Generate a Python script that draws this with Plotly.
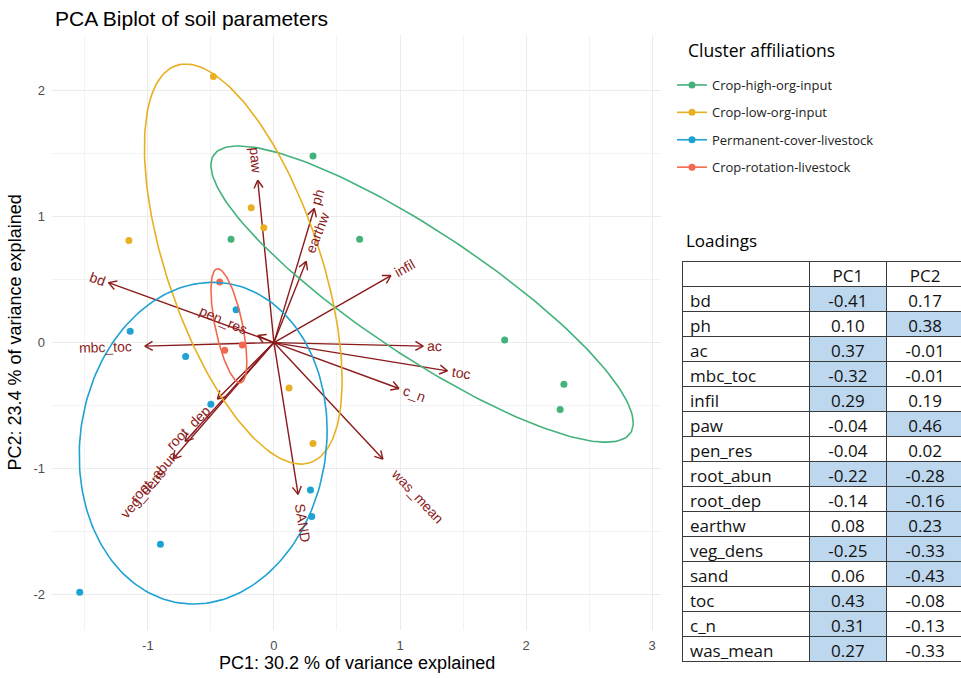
import numpy as np
import plotly.graph_objects as go

W, H = 965, 678   # figure slightly wider than the 961px window so the table's right edge is clipped

# ---------------- data ----------------
clusters = ["Crop-high-org-input", "Crop-low-org-input",
            "Permanent-cover-livestock", "Crop-rotation-livestock"]
cluster_colors = ["#43B37B", "#E8B020", "#1EA1D3", "#F3694F"]

high_pc1 = [0.31, -0.34, 0.68, 1.83, 2.30, 2.27]
high_pc2 = [1.48, 0.82, 0.82, 0.02, -0.33, -0.53]
low_pc1 = [-0.48, -0.18, -0.08, -1.15, 0.12, 0.31]
low_pc2 = [2.11, 1.07, 0.91, 0.81, -0.36, -0.80]
perm_pc1 = [-1.14, -0.70, -0.30, -0.50, 0.29, 0.30, -0.90, -1.54]
perm_pc2 = [0.09, -0.11, 0.26, -0.49, -1.17, -1.38, -1.60, -1.98]
rot_pc1 = [-0.43, -0.39, -0.25]
rot_pc2 = [0.48, -0.06, -0.02]

# 68 % ellipses: centre, half-width, half-height, correlation
ell_cx = [1.175, -0.243, -0.561, -0.357]
ell_cy = [0.385, 0.623, -0.798, 0.133]
ell_hx = [1.675, 0.784, 0.983, 0.142]
ell_hy = [1.175, 1.587, 1.276, 0.453]
ell_r = [-0.87, -0.583, 0.077, -0.625]

variables = ["bd", "ph", "ac", "mbc_toc", "infil", "paw", "pen_res", "root_abun",
             "root_dep", "earthw", "veg_dens", "sand", "toc", "c_n", "was_mean"]
arrow_labels = ["bd", "ph", "ac", "mbc_toc", "infil", "paw", "pen_res", "root_abun",
                "root_dep", "earthw", "veg_dens", "SAND", "toc", "c_n", "was_mean"]
load_pc1 = [-0.41, 0.10, 0.37, -0.32, 0.29, -0.04, -0.04, -0.22, -0.14, 0.08, -0.25, 0.06, 0.43, 0.31, 0.27]
load_pc2 = [0.17, 0.38, -0.01, -0.01, 0.19, 0.46, 0.02, -0.28, -0.16, 0.23, -0.33, -0.43, -0.08, -0.13, -0.33]
hl_pc1 = [1, 0, 1, 1, 1, 0, 0, 1, 0, 0, 1, 0, 1, 1, 1]
hl_pc2 = [0, 1, 0, 0, 0, 1, 0, 1, 1, 1, 1, 1, 0, 0, 0]
arrow_scale_pc1 = 3.2
arrow_scale_pc2 = 2.8

x_ticks = [-1, 0, 1, 2, 3]
x_ticktext = ["-1", "0", "1", "2", "3"]
y_ticks = [-2, -1, 0, 1, 2]
y_ticktext = ["-2", "-1", "0", "1", "2"]

# ---------------- layout geometry ----------------
XR = [-1.76, 3.07]
YR = [-2.28, 2.44]
px_l, px_r, px_t, px_b = 52, 661, 35, 630
PPU = (px_r - px_l) / (XR[1] - XR[0])  # pixels per data unit

ARROW_COL = "#8B1A1A"
FONT = "Liberation Sans"

fig = go.Figure()

# arrows
ax_, ay_ = [], []
head = 9 / PPU
for a, b in zip(load_pc1, load_pc2):
    tx, ty = a * arrow_scale_pc1, b * arrow_scale_pc2
    ax_ += [0, tx, None]
    ay_ += [0, ty, None]
    ang = np.arctan2(ty, tx)
    for d in (np.pi - np.pi / 6, np.pi + np.pi / 6):
        ax_ += [tx, tx + head * np.cos(ang + d), None]
        ay_ += [ty, ty + head * np.sin(ang + d), None]
fig.add_trace(go.Scatter(x=ax_, y=ay_, mode="lines", line=dict(color=ARROW_COL, width=1.4),
                         showlegend=False, hoverinfo="skip"))

# points
pts = [(high_pc1, high_pc2), (low_pc1, low_pc2), (perm_pc1, perm_pc2), (rot_pc1, rot_pc2)]
for (px, py), c in zip(pts, cluster_colors):
    fig.add_trace(go.Scatter(x=px, y=py, mode="markers", marker=dict(color=c, size=7),
                             showlegend=False))

# ellipses
t = np.linspace(0, 2 * np.pi, 200)
for i, c in enumerate(cluster_colors):
    r = ell_r[i]
    ex = ell_cx[i] + ell_hx[i] * np.cos(t)
    ey = ell_cy[i] + ell_hy[i] * (r * np.cos(t) + np.sqrt(1 - r * r) * np.sin(t))
    fig.add_trace(go.Scatter(x=ex, y=ey, mode="lines", line=dict(color=c, width=1.6),
                             showlegend=False, hoverinfo="skip"))

# legend entries
for name, c in zip(clusters, cluster_colors):
    fig.add_trace(go.Scatter(x=[None], y=[None], mode="lines+markers", name=name,
                             legendgroup=name,
                             line=dict(color=c, width=1.6), marker=dict(color=c, size=7)))

# table
cell_vals_1 = [f"{v:.2f}" for v in load_pc1]
cell_vals_2 = [f"{v:.2f}" for v in load_pc2]
HL = "#BDD7EE"
fig.add_trace(go.Table(
    domain=dict(x=[682 / W, 1.0], y=[0, (H - 261) / H]),
    columnwidth=[128, 77, 78],
    header=dict(values=["", "PC1", "PC2"], height=25, fill_color="white",
                line=dict(color="#3A3A3A", width=1),
                font=dict(family="Open Sans", size=17, color="#111"),
                align=["left", "center", "center"]),
    cells=dict(values=[variables, cell_vals_1, cell_vals_2], height=25,
               fill_color=[["white"] * len(variables),
                           [HL if h else "white" for h in hl_pc1],
                           [HL if h else "white" for h in hl_pc2]],
               line=dict(color="#3A3A3A", width=1),
               font=dict(family="Open Sans", size=17, color="#111"),
               align=["left", "center", "center"])
))

# arrow labels
AW = {'a': .556, 'b': .556, 'c': .5, 'd': .556, 'e': .556, 'f': .278, 'g': .556, 'h': .556,
      'i': .222, 'l': .222, 'm': .833, 'n': .556, 'o': .556, 'p': .556, 'r': .333, 's': .5,
      't': .278, 'u': .556, 'v': .5, 'w': .722, '_': .556, 'S': .667, 'A': .667, 'N': .722,
      'D': .722}
LFS = 14
annotations = []
for lab, a, b in zip(arrow_labels, load_pc1, load_pc2):
    tx, ty = a * arrow_scale_pc1, b * arrow_scale_pc2
    w = sum(AW.get(ch, .556) for ch in lab) * LFS
    n = np.hypot(tx, ty)
    ux, uy = tx / n, ty / n
    ang = np.degrees(np.arctan(ty / tx))
    annotations.append(dict(x=tx, y=ty, xref="x", yref="y", text=lab, showarrow=False,
                            xanchor="center", yanchor="middle", textangle=-ang,
                            xshift=0.75 * w * ux, yshift=0.75 * w * uy,
                            font=dict(family=FONT, size=LFS, color=ARROW_COL)))

def P(xp, yp):
    return xp / W, (H - yp) / H

tx_, ty_ = P(53, 18)
annotations.append(dict(x=tx_, y=ty_, xref="paper", yref="paper", text="PCA Biplot of soil parameters",
                        showarrow=False, xanchor="left", yanchor="middle",
                        font=dict(family=FONT, size=21, color="black")))
xx, xy = P((px_l + px_r) / 2, 663)
annotations.append(dict(x=xx, y=xy, xref="paper", yref="paper", text="PC1: 30.2 % of variance explained",
                        showarrow=False, xanchor="center", yanchor="middle",
                        font=dict(family=FONT, size=18, color="black")))
yx, yy = P(14, (px_t + px_b) / 2)
annotations.append(dict(x=yx, y=yy, xref="paper", yref="paper", text="PC2: 23.4 % of variance explained",
                        showarrow=False, xanchor="center", yanchor="middle", textangle=-90,
                        font=dict(family=FONT, size=18, color="black")))
lx, ly = P(686, 50)
annotations.append(dict(x=lx, y=ly, xref="paper", yref="paper", text="Cluster affiliations",
                        showarrow=False, xanchor="left", yanchor="middle",
                        font=dict(family="Open Sans", size=17.5, color="black")))
ldx, ldy = P(684, 241)
annotations.append(dict(x=ldx, y=ldy, xref="paper", yref="paper", text="Loadings",
                        showarrow=False, xanchor="left", yanchor="middle",
                        font=dict(family="Open Sans", size=17, color="black")))

tickfont = dict(family=FONT, size=13, color="#4D4D4D")
fig.update_layout(
    width=W, height=H,
    margin=dict(l=0, r=0, t=0, b=0),
    paper_bgcolor="white", plot_bgcolor="white",
    xaxis=dict(range=XR, domain=[px_l / W, px_r / W], tickvals=x_ticks, ticktext=x_ticktext,
               showgrid=True, gridcolor="#EBEBEB", gridwidth=1.1, zeroline=False,
               showline=False, ticks="", tickfont=tickfont, automargin=False,
               ticklabelstandoff=6,
               minor=dict(tickvals=[-1.5, -0.5, 0.5, 1.5, 2.5], showgrid=True,
                          gridcolor="#F3F3F3", gridwidth=0.8)),
    yaxis=dict(range=YR, domain=[(H - px_b) / H, (H - px_t) / H], tickvals=y_ticks, ticktext=y_ticktext,
               showgrid=True, gridcolor="#EBEBEB", gridwidth=1.1, zeroline=False,
               showline=False, ticks="", tickfont=tickfont, automargin=False,
               ticklabelstandoff=6,
               minor=dict(tickvals=[-1.5, -0.5, 0.5, 1.5], showgrid=True,
                          gridcolor="#F3F3F3", gridwidth=0.8)),
    legend=dict(x=672 / W, y=(H - 70) / H, xanchor="left", yanchor="top",
                font=dict(family="Open Sans", size=13, color="#222"),
                tracegroupgap=7.5, bgcolor="rgba(0,0,0,0)", itemwidth=30),
    annotations=annotations,
    showlegend=True,
)

fig.write_html("out.html", config={"displayModeBar": False},
               post_script="document.body.style.margin='0px';document.body.style.overflow='hidden';")
